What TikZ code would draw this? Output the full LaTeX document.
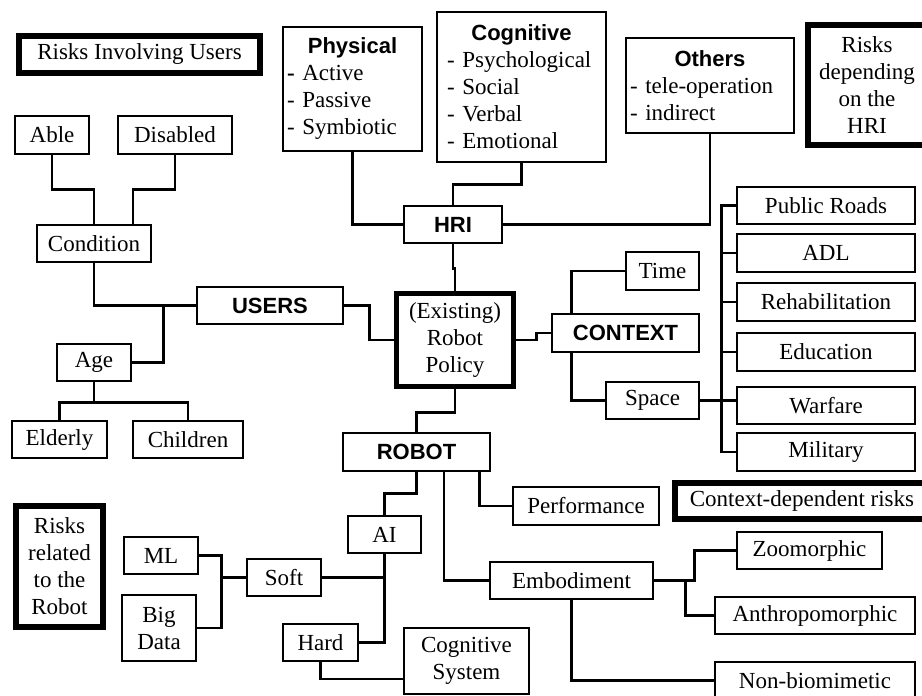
\documentclass[tikz,border=0pt]{standalone}
\usepackage{fontspec}
\setmainfont{Liberation Serif}
\setsansfont{Liberation Sans}
\newcommand\hdfont{\sffamily\bfseries\fontsize{22}{27}\selectfont}

\begin{document}
\begin{tikzpicture}[x=1pt, y=-1pt,
    box/.style={draw, line width=1.2pt, fill=white, inner sep=0pt, align=center,
        font=\rmfamily\fontsize{23}{27}\selectfont},
    riskbox/.style={box, line width=6pt},
    listbox/.style={box, align=left},
    hdbox/.style={box, font=\hdfont},
    link/.style={line width=2.8pt}]
    \useasboundingbox (0,0) rectangle (922,696);
    \clip (0,0) rectangle (922,696);

    \node[riskbox, minimum width=241, minimum height=37] (riskusers) at (139.5,54.5) {Risks Involving Users};
    \node[riskbox, minimum width=118, minimum height=120] (riskhri) at (867,85) {Risks\\depending\\on the\\HRI};
    \node[riskbox, minimum width=254, minimum height=36] (riskcontext) at (802,501) {Context-dependent risks};
    \node[riskbox, minimum width=87, minimum height=121] (riskrobot) at (59.5,566.5) {Risks\\related\\to the\\Robot};

    \node[listbox, minimum width=139, minimum height=124, text width=131] (physical) at (352.5,89)
        {\makebox[\linewidth]{\hdfont Physical}\\\textbf{-} Active\\- Passive\\- Symbiotic};
    \node[listbox, minimum width=169, minimum height=150, text width=149] (cognitive) at (521.5,87)
        {\makebox[\linewidth]{\hdfont Cognitive}\\- Psychological\\- Social\\- Verbal\\- Emotional};
    \node[listbox, minimum width=168, minimum height=95, text width=160] (others) at (710,85.5)
        {\makebox[\linewidth]{\hdfont Others}\\- tele-operation\\- indirect};

    \node[box, line width=5.5pt, minimum width=117, minimum height=93] (policy) at (455,340) {(Existing)\\Robot\\Policy};
    \node[hdbox, minimum width=98, minimum height=37] (hri) at (453,224.5) {HRI};
    \node[hdbox, minimum width=146, minimum height=37] (users) at (270,305.5) {USERS};
    \node[hdbox, minimum width=147, minimum height=38] (context) at (625.5,333) {CONTEXT};
    \node[hdbox, minimum width=147, minimum height=38] (robot) at (416.5,452) {ROBOT};

    \node[box, minimum width=74, minimum height=38] (able) at (52,135) {Able};
    \node[box, minimum width=114, minimum height=38] (disabled) at (175,135) {Disabled};
    \node[box, minimum width=114, minimum height=37] (condition) at (94,243.5) {Condition};
    \node[box, minimum width=74, minimum height=37] (age) at (94,362.5) {Age};
    \node[box, minimum width=95, minimum height=37] (elderly) at (59.5,439.5) {Elderly};
    \node[box, minimum width=110, minimum height=37] (children) at (188,439.5) {Children};

    \node[box, minimum width=73, minimum height=38] (time) at (662.5,271) {Time};
    \node[box, minimum width=93, minimum height=37] (space) at (652.5,400.5) {Space};
    \node[box, minimum width=178, minimum height=37] (publicroads) at (826,205.5) {Public Roads};
    \node[box, minimum width=178, minimum height=38] (adl) at (826,253) {ADL};
    \node[box, minimum width=178, minimum height=38] (rehab) at (826,302) {Rehabilitation};
    \node[box, minimum width=178, minimum height=38] (education) at (826,352) {Education};
    \node[box, minimum width=178, minimum height=37] (warfare) at (826,405.5) {Warfare};
    \node[box, minimum width=178, minimum height=38] (military) at (826,452) {Military};

    \node[box, minimum width=146, minimum height=38] (performance) at (586,506) {Performance};
    \node[box, minimum width=163, minimum height=37] (embodiment) at (571.5,580.5) {Embodiment};
    \node[box, minimum width=145, minimum height=37] (zoomorphic) at (809.5,550.5) {Zoomorphic};
    \node[box, minimum width=200, minimum height=37] (anthro) at (815,615.5) {Anthropomorphic};
    \node[box, minimum width=200, minimum height=37] (nonbio) at (815,680.5) {Non-biomimetic};
    \node[box, minimum width=73, minimum height=37] (ai) at (384.5,534.5) {AI};
    \node[box, minimum width=74, minimum height=37] (soft) at (284,577.5) {Soft};
    \node[box, minimum width=75, minimum height=37] (hard) at (320.5,642.5) {Hard};
    \node[box, minimum width=74, minimum height=37] (ml) at (161,555.5) {ML};
    \node[box, minimum width=74, minimum height=66] (bigdata) at (159,628) {Big\\Data};
    \node[box, minimum width=125, minimum height=66] (cogsys) at (466.5,661) {Cognitive\\System};

    \draw[link] (able.south) -- ++(0,35) -| (condition.north);
    \draw[link] (disabled.south) -- ++(0,35) -| ([xshift=39pt]condition.north);
    \draw[link] (condition.south) |- (users.west);
    \draw[link] (age.east) -- ++(32,0) |- (users.west);
    \draw[link] (age.south) -- ++(0,21) -| (elderly.north);
    \draw[link] (age.south) -- ++(0,21) -| (children.north);
    \draw[link] (users.east) -- ++(26,0) |- (policy.west);

    \draw[link] (physical.south) |- (hri.west);
    \draw[link] (cognitive.south) -- ++(0,22) -| (hri.north);
    \draw[link] (others.south) |- (hri.east);
    \draw[link] (hri.south) -- ++(0,25) -| (policy.north);

    \draw[link] (policy.east) -- ++(20,0) |- (context.west);
    \draw[link] ([xshift=20pt]context.north west) |- (time.west);
    \draw[link] ([xshift=20pt]context.south west) |- (space.west);
    \draw[link] (space.east) -- (space.east -| warfare.west);
    \draw[link] (publicroads.west) -- ++(-15,0) |- (military.west);
    \draw[link] (adl.west) -- ++(-15,0);
    \draw[link] (rehab.west) -- ++(-15,0);
    \draw[link] (education.west) -- ++(-15,0);

    \draw[link] (policy.south) -- ++(0,23.5) -| (robot.north);
    \draw[link] (robot.south) -- ++(0,22) -| (ai.north);
    \draw[link] ([xshift=-11pt]robot.south east) |- (performance.west);
    \draw[link] ([xshift=27.5pt]robot.south) |- (embodiment.west);
    \draw[link] (ai.south) |- (hard.east);
    \draw[link] (soft.east) -- (soft.east -| ai.south);
    \draw[link] (ml.east) -- ++(23,0) |- (bigdata.east);
    \draw[link] (soft.west) -- ++(-26,0);
    \draw[link] (hard.south) |- ([yshift=-18pt]cogsys.west);
    \draw[link] (embodiment.east) -- ++(41,0) |- (zoomorphic.west);
    \draw[link] (embodiment.east) -- ++(32,0) |- (anthro.west);
    \draw[link] (embodiment.south) |- (nonbio.west);
\end{tikzpicture}
\end{document}
